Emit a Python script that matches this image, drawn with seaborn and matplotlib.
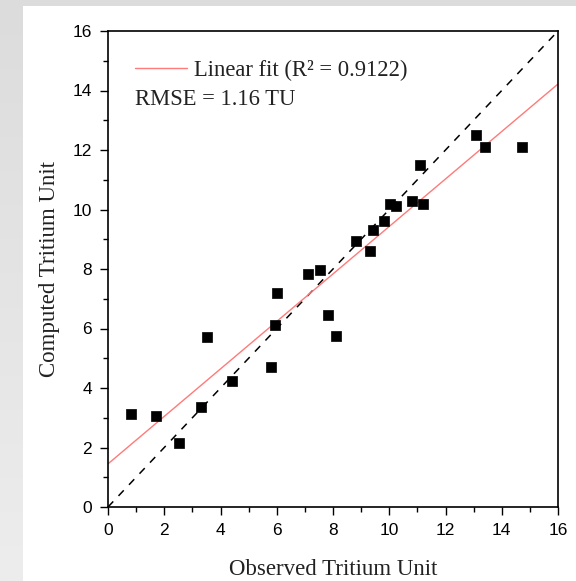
import numpy as np
import pandas as pd
import matplotlib
matplotlib.use("Agg")
import matplotlib.pyplot as plt
from matplotlib.patches import Rectangle
from matplotlib.lines import Line2D
import seaborn as sns

# ---- data ----
observed = [0.82, 1.72, 2.52, 3.30, 3.52, 4.40, 5.80, 5.93, 6.02, 7.11, 7.53,
            7.82, 8.10, 8.83, 9.32, 9.43, 9.80, 10.03, 10.23, 10.81, 11.20,
            11.10, 13.10, 13.40, 14.71]
computed = [3.12, 3.06, 2.14, 3.35, 5.72, 4.23, 4.69, 6.12, 7.21, 7.83, 7.97,
            6.45, 5.76, 8.94, 8.62, 9.30, 9.61, 10.19, 10.11, 10.30, 10.18,
            11.50, 12.49, 12.10, 12.10]
fit_intercept = 1.45
fit_slope = 0.798
r2_text = "Linear fit (R\u00b2 = 0.9122)"
rmse_text = "RMSE = 1.16 TU"
x_label = "Observed Tritium Unit"
y_label = "Computed Tritium Unit"
ticks = [0, 2, 4, 6, 8, 10, 12, 14, 16]
axis_limits = [0, 16]

df = pd.DataFrame({"Observed": observed, "Computed": computed})

sns.set_theme(style="white")
plt.rcParams["font.family"] = ["Liberation Sans", "DejaVu Sans"]

W, H = 576, 581
fig = plt.figure(figsize=(W / 100, H / 100), dpi=100)

# background: light gray gradient with white panel
bg = fig.add_axes([0, 0, 1, 1], zorder=-10)
grad = np.linspace(0, 1, 256).reshape(-1, 1)
bg.imshow(grad, aspect="auto", cmap=matplotlib.colors.LinearSegmentedColormap.from_list(
    "g", ["#dcdcdc", "#ededed"]), extent=[0, 1, 0, 1], transform=bg.transAxes)
bg.add_patch(Rectangle((23 / W, 0), 1, 1 - 6 / H, transform=bg.transAxes,
                       facecolor="white", edgecolor="none"))
bg.set_axis_off()

ax = fig.add_axes([108 / W, 1 - 507 / H, 450 / W, 476 / H])
ax.set_facecolor("white")

# 1:1 line
ax.plot(axis_limits, axis_limits, color="black", lw=1.1, ls=(0, (5, 5)), zorder=2)
# linear fit line
xs = np.array(axis_limits, dtype=float)
ax.plot(xs, fit_intercept + fit_slope * xs, color="#ff7a7a", lw=1.0, zorder=2)

sns.scatterplot(data=df, x="Observed", y="Computed", marker="s", s=52,
                color="black", edgecolor="black", linewidth=0.5, ax=ax, zorder=3,
                legend=False)

ax.set_xlim(axis_limits)
ax.set_ylim(axis_limits)
ax.set_xticks(ticks)
ax.set_yticks(ticks)
ax.set_xticks(np.arange(1, 16, 2), minor=True)
ax.set_yticks(np.arange(1, 16, 2), minor=True)
ax.tick_params(axis="both", which="major", direction="out", length=6, width=1,
               labelsize=12.5, color="black", labelcolor="black", pad=5.5,
               bottom=True, left=True, top=False, right=False)
ax.tick_params(axis="both", which="minor", direction="out", length=3.5, width=1,
               color="black", bottom=True, left=True, top=False, right=False)
for sp in ax.spines.values():
    sp.set_color("black")
    sp.set_linewidth(1.2)

serif = ["Liberation Serif", "DejaVu Serif"]
ax.set_xlabel(x_label, family=serif, fontsize=16.5, color="#222222", labelpad=15)
ax.set_ylabel(y_label, family=serif, fontsize=16.5, color="#222222", labelpad=9)

handle = Line2D([], [], color="#ff7a7a", lw=1.0)
leg = ax.legend([handle], [r2_text], loc="center left",
                bbox_to_anchor=(0.06, 0.918), frameon=False, borderpad=0,
                borderaxespad=0, handlelength=2.3, handletextpad=0.3,
                prop={"family": serif, "size": 16.3})
for t in leg.get_texts():
    t.set_color("#222222")
ax.text(0.06, 0.857, rmse_text, transform=ax.transAxes, family=serif,
        fontsize=16.3, color="#222222", va="center", ha="left")

fig.savefig("out.png", dpi=100)
